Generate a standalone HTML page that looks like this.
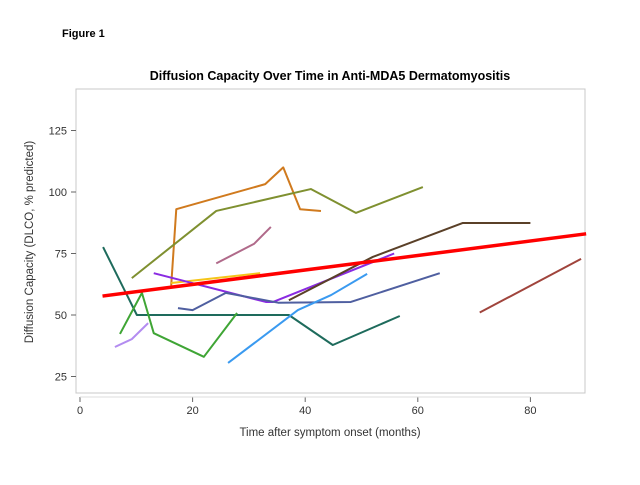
<!DOCTYPE html>
<html><head><meta charset="utf-8"><style>
body{margin:0;background:#fff;width:640px;height:480px;overflow:hidden;font-family:"Liberation Sans",Arial,sans-serif}
</style></head><body>
<svg id="chart" width="640" height="480" xmlns="http://www.w3.org/2000/svg" font-family="Liberation Sans, Arial, sans-serif">
<text x="62" y="37" font-size="11" font-weight="bold">Figure 1</text>
<text x="330" y="80" font-size="12.5" font-weight="bold" text-anchor="middle">Diffusion Capacity Over Time in Anti-MDA5 Dermatomyositis</text>
<rect x="76" y="89" width="509" height="304" fill="none" stroke="#c8c8c8" stroke-width="1"/>
<text transform="translate(33,242) rotate(-90)" font-size="11.5" text-anchor="middle" fill="#333">Diffusion Capacity (DLCO, % predicted)</text>
<text x="330" y="436" font-size="11.5" text-anchor="middle" fill="#333">Time after symptom onset (months)</text>
<g id="axes"></g>
<g id="series"></g>
</svg>
<script>
const xTicks=[0,20,40,60,80];
const yTicks=[25,50,75,100,125];
const s1x=[16.2,17.1,32.9,36.1,39.1,42.8], s1y=[62,93,103.2,110,93,92.3];
const s2x=[9.2,24.2,41,49,60.9], s2y=[65,92.3,101.2,91.5,102];
const s3x=[24.2,30.9,33.9], s3y=[71,78.9,85.8];
const s4x=[16.2,32], s4y=[63,67];
const s5x=[4.1,10.1,37.1,44.9,56.8], s5y=[77.6,50,50,37.8,49.6];
const s6x=[7.1,11,13.1,22,27.9], s6y=[42.3,59,42.6,33,50.8];
const s7x=[6.2,9.2,12.1], s7y=[37,40.2,46.7];
const s8x=[13.1,33,34.3,55.8], s8y=[67,55.3,55.3,75];
const s9x=[17.4,20,25.9,35.2,48.1,63.9], s9y=[52.8,52,59,55,55.3,67];
const s10x=[26.3,38.7,44.6,51], s10y=[30.5,52,58.1,66.7];
const s11x=[37.1,52,68,80], s11y=[56,73.6,87.4,87.4];
const s12x=[71,89], s12y=[51,72.8];
const fitX=[4,89.9], fitY=[57.7,83];
const colors=["#d07a1e","#7f9030","#b06a8a","#f5c518","#1e6b5c","#3fa535","#b38cf0","#8a2be2","#4f5fa0","#3a9af0","#5a4028","#a0443c"];
const X=v=>80+v*5.63, Y=v=>192-(v-100)*2.46;
const NS="http://www.w3.org/2000/svg";
const ax=document.getElementById('axes'), sg=document.getElementById('series');
function mk(t,a,p){const e=document.createElementNS(NS,t);for(const k in a)e.setAttribute(k,a[k]);p.appendChild(e);return e;}
xTicks.forEach(v=>{
 const l=mk('line',{x1:X(v),x2:X(v),y1:397,y2:402,stroke:'#666'},ax);
 
 
 const t=mk('text',{x:X(v),y:414,'font-size':11,'text-anchor':'middle',fill:'#333'},ax);t.textContent=v;
 
 
});
const xl=mk('line',{x1:X(0),x2:X(80),y1:397,y2:397,stroke:'#ddd'},ax);


yTicks.forEach(v=>{
 const l=mk('line',{x1:71,x2:76,y1:Y(v),y2:Y(v),stroke:'#666'},ax);
 
 
 const t=mk('text',{x:67,y:Y(v)+4,'font-size':11,'text-anchor':'end',fill:'#333'},ax);t.textContent=v;
 
 
});
const series=[[s1x,s1y],[s2x,s2y],[s3x,s3y],[s4x,s4y],[s5x,s5y],[s6x,s6y],[s7x,s7y],[s8x,s8y],[s9x,s9y],[s10x,s10y],[s11x,s11y],[s12x,s12y]];
series.forEach((s,i)=>{
 const p=mk('polyline',{points:s[0].map((x,j)=>X(x)+','+Y(s[1][j])).join(' '),fill:'none',stroke:colors[i],'stroke-width':2,'stroke-linejoin':'round'},sg);
 
 
});
const f=mk('polyline',{points:fitX.map((x,j)=>X(x)+','+Y(fitY[j])).join(' '),fill:'none',stroke:'#ff0000','stroke-width':3.5},sg);


</script>
</body></html>
